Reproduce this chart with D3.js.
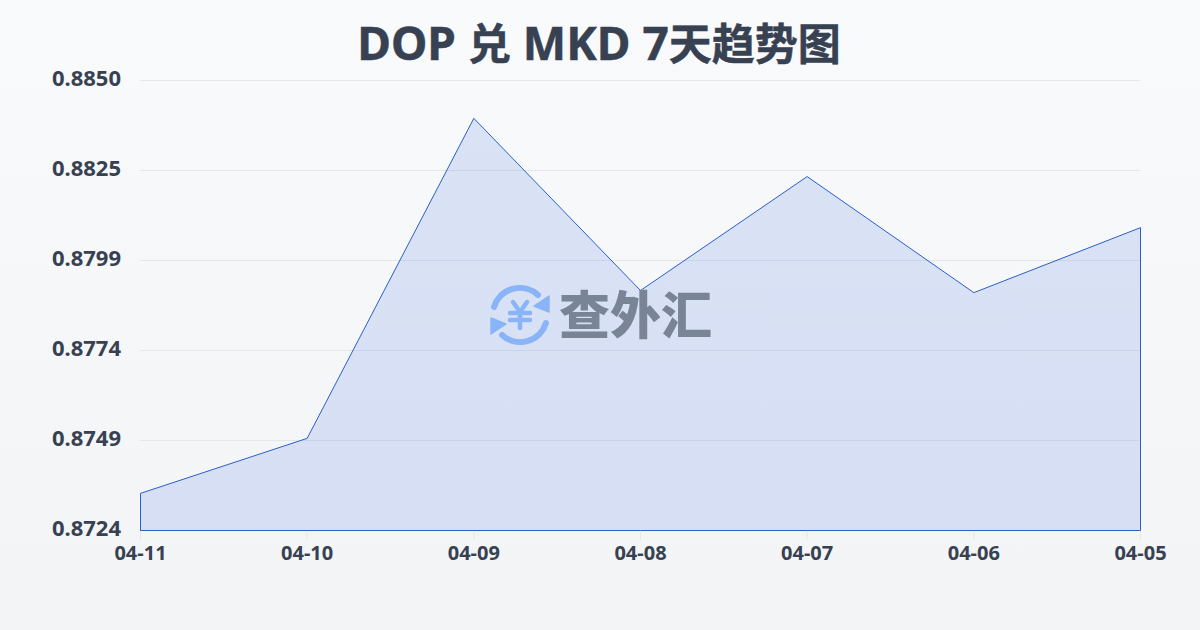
<!DOCTYPE html>
<html><head><meta charset="utf-8">
<style>html,body{margin:0;padding:0;background:#f5f7fa}svg{display:block}</style>
<script src="https://cdn.jsdelivr.net/npm/d3@7"></script></head><body>
<svg id="c" width="1200" height="630"></svg>
<script>
const titleParts=[["DOP ",46],["兑",43],[" MKD 7",46],["天趋势图",43]];
const dates=["04-11","04-10","04-09","04-08","04-07","04-06","04-05"];
const rates=[0.87344,0.87498,0.88394,0.87912,0.88231,0.87906,0.88088];
const yTickValues=[0.8724,0.87492,0.87744,0.87996,0.88248,0.885];
const yTickLabels=["0.8724","0.8749","0.8774","0.8799","0.8825","0.8850"];
const font='"Noto Sans","Noto Sans CJK SC",sans-serif';
const svg=d3.select("#c");
const defs=svg.append("defs");
const bg=defs.append("linearGradient").attr("id","bg").attr("x1",0).attr("y1",0).attr("x2",0).attr("y2",1);
bg.append("stop").attr("offset",0).attr("stop-color","#f9fafb");
bg.append("stop").attr("offset",1).attr("stop-color","#f3f4f6");
svg.append("rect").attr("width",1200).attr("height",630).attr("fill","url(#bg)");
const x=d3.scalePoint().domain(dates).range([140.5,1140.5]);
const y=d3.scaleLinear().domain([0.8724,0.885]).range([530.5,80.5]);
svg.append("g").selectAll("line").data(yTickValues).join("line")
 .attr("x1",140).attr("x2",1140).attr("y1",d=>y(d)).attr("y2",d=>y(d))
 .attr("stroke","#e5e7eb").attr("stroke-width",1);
svg.append("g").selectAll("line").data(dates).join("line")
 .attr("x1",d=>x(d)).attr("x2",d=>x(d)).attr("y1",530).attr("y2",540)
 .attr("stroke","#e5e7eb").attr("stroke-width",1);
const area=d3.area().x((d,i)=>x(dates[i])).y0(y(0.8724)).y1(d=>y(d));
svg.append("path").datum(rates).attr("d",area(rates))
 .attr("fill","#2f66e0").attr("fill-opacity",0.15)
 .attr("stroke","#2a5fc9").attr("stroke-width",1);
svg.append("g").selectAll("text").data(yTickValues).join("text")
 .attr("x",121).attr("y",d=>y(d)+5).attr("text-anchor","end")
 .attr("font-family",font).attr("font-weight",700).attr("font-size",22).attr("fill","#374151")
 .text((d,i)=>yTickLabels[i]);
svg.append("g").selectAll("text").data(dates).join("text")
 .attr("x",d=>x(d)).attr("y",560).attr("text-anchor","middle")
 .attr("font-family",font).attr("font-weight",700).attr("font-size",20).attr("fill","#374151")
 .text(d=>d);
svg.append("text").attr("x",599).attr("y",60).attr("text-anchor","middle")
 .attr("font-family",font).attr("font-weight",700).attr("fill","#374151")
 .attr("stroke","#374151").attr("stroke-width",0.5)
 .attr("xml:space","preserve").style("white-space","pre")
 .selectAll("tspan").data(titleParts).join("tspan").attr("font-size",d=>d[1]).text(d=>d[0]);
const wm=svg.append("g");
const logo=wm.append("g").attr("transform","translate(520,315)").attr("fill","none").attr("stroke","#8ab4f8").attr("stroke-linecap","round");
logo.append("path").attr("d","M-26,-8 A27,27 0 0 1 18,-20").attr("stroke-width",6);
logo.append("path").attr("d","M26,8 A27,27 0 0 1 -18,20").attr("stroke-width",6);
logo.append("path").attr("d","M29,-19 L29,-3 L14,-9 Z").attr("fill","#8ab4f8").attr("stroke","#8ab4f8").attr("stroke-width",1.5).attr("stroke-linejoin","round");
logo.append("path").attr("d","M-29,19 L-29,3 L-14,9 Z").attr("fill","#8ab4f8").attr("stroke","#8ab4f8").attr("stroke-width",1.5).attr("stroke-linejoin","round");
logo.append("path").attr("d","M-7,-13 L0,-3 L7,-13 M-10,-2 H10 M-10,5 H10 M0,-3 V13").attr("stroke-width",4.5);
wm.append("text").attr("x",635.5).attr("y",334).attr("text-anchor","middle")
 .attr("font-family",font).attr("font-weight",900).attr("font-size",51).attr("fill","#7a8497").text("查外汇");
</script></body></html>
